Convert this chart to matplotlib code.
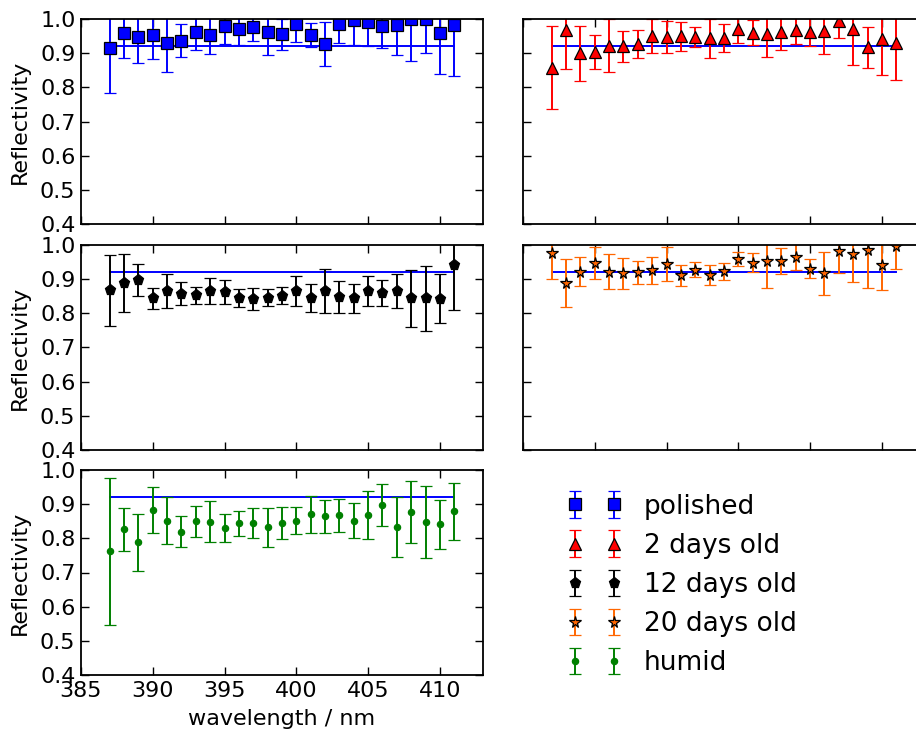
import matplotlib
matplotlib.use("Agg")
import matplotlib.pyplot as plt

# wavelengths (nm) and measured reflectivity with 1-sigma errors
wavelength = list(range(387, 412))

polished = [0.915, 0.960, 0.947, 0.952, 0.929, 0.937, 0.961, 0.953, 0.980, 0.970,
            0.976, 0.961, 0.955, 0.984, 0.953, 0.926, 0.984, 0.998, 0.990, 0.979,
            0.982, 1.000, 1.000, 0.960, 0.982]
polished_err = [0.131, 0.074, 0.076, 0.070, 0.083, 0.048, 0.052, 0.054, 0.054, 0.047,
                0.040, 0.065, 0.045, 0.051, 0.035, 0.064, 0.054, 0.074, 0.070, 0.063,
                0.086, 0.123, 0.100, 0.120, 0.150]

days2 = [0.858, 0.968, 0.900, 0.903, 0.922, 0.920, 0.926, 0.951, 0.947, 0.949,
         0.948, 0.943, 0.945, 0.970, 0.960, 0.956, 0.961, 0.967, 0.963, 0.965,
         0.995, 0.970, 0.917, 0.941, 0.931]
days2_err = [0.121, 0.113, 0.080, 0.050, 0.078, 0.046, 0.041, 0.050, 0.047, 0.043,
             0.029, 0.058, 0.041, 0.041, 0.037, 0.067, 0.052, 0.041, 0.041, 0.068,
             0.052, 0.104, 0.059, 0.104, 0.110]

days12 = [0.867, 0.889, 0.897, 0.844, 0.866, 0.858, 0.853, 0.865, 0.863, 0.844,
          0.843, 0.845, 0.851, 0.865, 0.844, 0.865, 0.848, 0.844, 0.865, 0.860,
          0.865, 0.844, 0.844, 0.843, 0.940]
days12_err = [0.105, 0.085, 0.046, 0.030, 0.050, 0.033, 0.025, 0.037, 0.036, 0.026,
              0.032, 0.025, 0.025, 0.043, 0.041, 0.064, 0.046, 0.042, 0.044, 0.038,
              0.050, 0.084, 0.095, 0.072, 0.130]

days20 = [0.976, 0.889, 0.922, 0.947, 0.922, 0.917, 0.920, 0.926, 0.944, 0.911,
          0.928, 0.911, 0.923, 0.959, 0.948, 0.953, 0.953, 0.966, 0.931, 0.917,
          0.982, 0.974, 0.985, 0.942, 0.998]
days20_err = [0.075, 0.070, 0.043, 0.047, 0.051, 0.045, 0.033, 0.040, 0.050, 0.031,
              0.022, 0.029, 0.024, 0.020, 0.028, 0.078, 0.037, 0.040, 0.029, 0.062,
              0.065, 0.082, 0.110, 0.075, 0.068]

humid = [0.762, 0.826, 0.788, 0.883, 0.852, 0.820, 0.850, 0.849, 0.830, 0.844,
         0.846, 0.832, 0.844, 0.852, 0.870, 0.864, 0.868, 0.852, 0.868, 0.897,
         0.833, 0.877, 0.848, 0.841, 0.879]
humid_err = [0.215, 0.064, 0.084, 0.067, 0.068, 0.046, 0.046, 0.059, 0.040, 0.037,
             0.044, 0.056, 0.047, 0.039, 0.054, 0.048, 0.048, 0.051, 0.071, 0.061,
             0.089, 0.092, 0.106, 0.072, 0.083]

# reference reflectivity level
ref_level = 0.92
ref_range = [387, 411]

series = [
    (polished, polished_err, "polished", "s", "b", 8),
    (days2, days2_err, "2 days old", "^", "r", 8.5),
    (days12, days12_err, "12 days old", "p", "k", 8),
    (days20, days20_err, "20 days old", "*", "#ff6600", 8.5),
    (humid, humid_err, "humid", ".", "g", 9),
]

plt.rcParams["font.family"] = "DejaVu Sans"
fig = plt.figure(figsize=(9.16, 7.33), dpi=100)

W, H = 916.0, 733.0
cols = [81, 523]
rows = [(19, 224), (245, 450), (470, 675)]
aw = 402
fs = 16

handles = []
for i, (vals, errs, label, marker, color, ms) in enumerate(series):
    r, c = divmod(i, 2)
    top, bot = rows[r]
    ax = fig.add_axes([cols[c] / W, 1 - bot / H, aw / W, (bot - top) / H])
    ax.plot(ref_range, [ref_level, ref_level], color="b", lw=1.4, zorder=1)
    mec = color if marker == "." else "k"
    h = ax.errorbar(wavelength, vals, yerr=errs, fmt=marker, color=color,
                    ecolor=color, mec=mec, mew=0.9, ms=ms, elinewidth=1.4,
                    capsize=4, capthick=1.4, label=label, zorder=2)
    handles.append(h)
    ax.set_xlim(385, 413)
    ax.set_ylim(0.4, 1.0)
    ax.set_xticks([385, 390, 395, 400, 405, 410])
    ax.set_yticks([0.4, 0.5, 0.6, 0.7, 0.8, 0.9, 1.0])
    ax.tick_params(direction="in", top=True, right=True, length=5.5, width=1.0,
                   labelsize=fs, pad=4)
    for sp in ax.spines.values():
        sp.set_linewidth(1.3)
    if c == 0:
        ax.set_ylabel("Reflectivity", fontsize=fs, labelpad=7.5)
    else:
        ax.tick_params(labelleft=False)
    if i != 4:
        ax.tick_params(labelbottom=False)
    else:
        ax.set_xlabel("wavelength / nm", fontsize=fs, labelpad=6)

fig.legend(handles=handles, labels=[s[2] for s in series], loc="upper left",
           bbox_to_anchor=(557 / W, 1 - 483 / H), frameon=False, numpoints=2,
           fontsize=19, handlelength=2.05, handletextpad=0.85, borderaxespad=0,
           labelspacing=0.5)

fig.savefig("out.png", dpi=100)
